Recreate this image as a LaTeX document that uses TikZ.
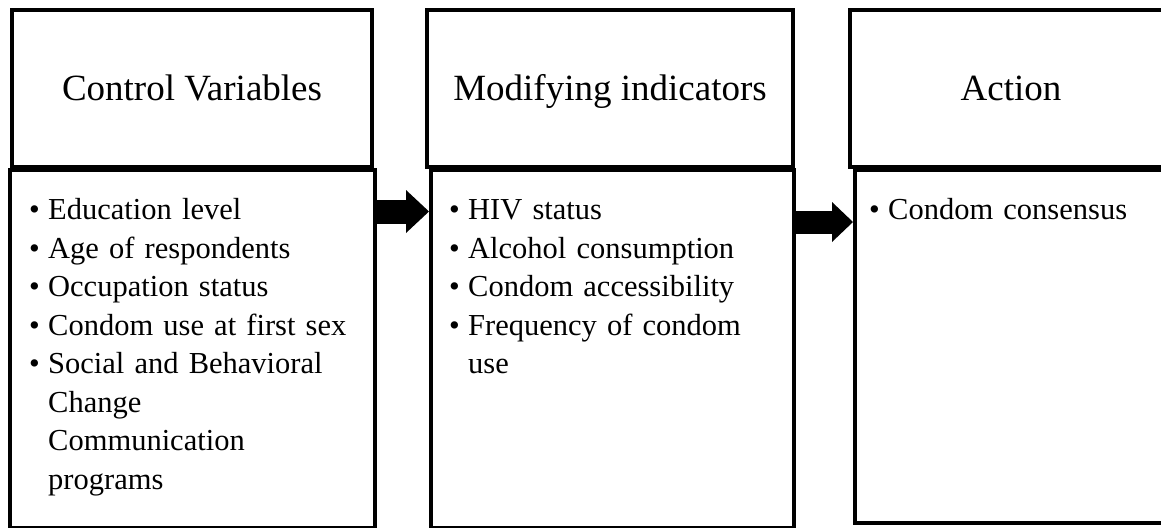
\documentclass[tikz,border=0pt]{standalone}
\usepackage{fontspec}
\setmainfont{Liberation Serif}
\usetikzlibrary{arrows.meta}
\tikzset{
  headbox/.style={draw, line width=4pt, minimum height=157pt, inner sep=0pt,
    text height=24pt, text depth=0pt, font=\fontsize{37}{44}\selectfont},
  bodybox/.style={draw, line width=4pt, inner sep=0pt},
  listtext/.style={anchor=north west, inner sep=0pt, align=left,
    font=\fontsize{30.5}{38.5}\selectfont},
  blockarrow/.style={line width=24pt, -{Triangle[length=23pt, width=43pt, line width=0pt]}}
}
\newcommand{\entry}[1]{\par\noindent\makebox[19pt][l]{\textbullet}%
  \parbox[t]{\dimexpr\hsize-19pt\relax}{\raggedright\strut#1\strut}}

\begin{document}
\begin{tikzpicture}[x=1pt, y=-1pt]
		%%%%% START %%%%%
		\useasboundingbox[fill=white] (0, 0) rectangle (1161, 527);
		
		\node[headbox, minimum width=360pt] (head1) at (192, 88.5) {Control Variables};
		\node[headbox, minimum width=366pt] (head2) at (610, 88.5) {Modifying indicators};
		\node[headbox, minimum width=322pt] (head3) at (1011, 88.5) {Action};
		
		\node[bodybox, minimum width=365pt, minimum height=358pt] (body1) at (192.5, 349) {};
		\node[bodybox, minimum width=363pt, minimum height=358pt] (body2) at (612.5, 349) {};
		\node[bodybox, minimum width=320pt, minimum height=353pt] (body3) at (1015, 346.5) {};
		
		\node[listtext, text width=325pt] (list1) at (29, 181) {%
			\entry{Education level}
			\entry{Age of respondents}
			\entry{Occupation status}
			\entry{Condom use at first sex}
			\entry{Social and Behavioral\newline Change\newline Communication\newline programs}};
		\node[listtext, text width=330pt] (list2) at (449, 181) {%
			\entry{HIV status}
			\entry{Alcohol consumption}
			\entry{Condom accessibility}
			\entry{Frequency of condom\newline use}};
		\node[listtext, text width=290pt] (list3) at (869, 181) {%
			\entry{Condom consensus}};
		
		\draw[blockarrow] ([yshift=-43.5pt]body1.north east) -- ([yshift=-43.5pt]body2.north west);
		\draw[blockarrow, line width=23pt, -{Triangle[length=21pt, width=40pt, line width=0pt]}]
			([yshift=-54pt]body2.north east) -- ([yshift=-54pt]body3.north west);
		
		%%%%% END %%%%%
	\end{tikzpicture}
\end{document}
